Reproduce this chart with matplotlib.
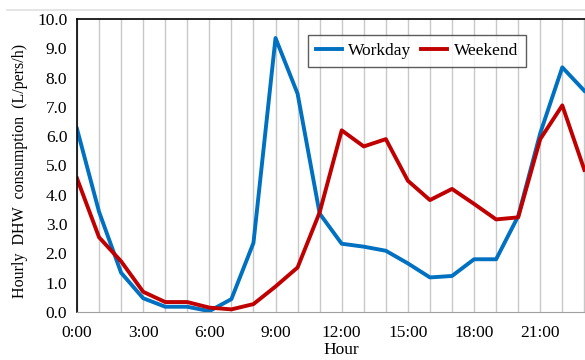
import matplotlib.pyplot as plt
import numpy as np
from matplotlib.lines import Line2D

hours = np.arange(0, 24)
workday = [6.25, 3.42, 1.34, 0.47, 0.18, 0.18, 0.03, 0.44, 2.36, 9.35,
           7.45, 3.36, 2.33, 2.23, 2.09, 1.66, 1.18, 1.23, 1.8, 1.8,
           3.27, 6.1, 8.35, 7.55]
weekend = [4.56, 2.55, 1.73, 0.69, 0.34, 0.34, 0.15, 0.09, 0.27, 0.87,
           1.52, 3.4, 6.2, 5.65, 5.9, 4.48, 3.82, 4.2, 3.69, 3.16,
           3.23, 5.9, 7.05, 4.85]
xtick_pos = [0, 3, 6, 9, 12, 15, 18, 21]
xtick_labels = ["0:00", "3:00", "6:00", "9:00", "12:00", "15:00", "18:00", "21:00"]

plt.rcParams['font.family'] = ['Liberation Serif', 'DejaVu Serif']

fig = plt.figure(figsize=(5.85, 3.6), dpi=100)
ax = fig.add_axes([0.1316, 0.1333, 0.905, 0.814])

ax.plot(hours, workday, color="#0070C0", lw=2.8, label="Workday")
ax.plot(hours, weekend, color="#C00000", lw=2.8, label="Weekend")

ax.set_xlim(0, 24)
ax.set_ylim(0, 10)
ax.set_xticks(np.arange(0, 25, 1), minor=True)
ax.set_xticks(xtick_pos)
ax.set_xticklabels(xtick_labels)
ax.set_yticks(np.arange(0, 10.5, 1))
ax.set_yticklabels(["%.1f" % v for v in np.arange(0, 10.5, 1)])
ax.grid(axis="x", which="both", color="#c8c8c8", lw=1)
ax.set_axisbelow(True)
ax.tick_params(which="both", length=0, labelsize=12.5)
ax.tick_params(axis="x", pad=9)
ax.tick_params(axis="y", pad=7)

ax.spines["left"].set_color("black")
ax.spines["left"].set_linewidth(1.2)
ax.spines["top"].set_color("black")
ax.spines["top"].set_linewidth(1.2)
ax.spines["bottom"].set_color("#a0a0a0")
ax.spines["right"].set_visible(False)

ax.set_xlabel("Hour", fontsize=12.5, labelpad=1)
ax.set_ylabel("Hourly  DHW  consumption  (L/pers/h)", fontsize=11.5)
ax.yaxis.set_label_coords(-0.092, 0.48)

leg = ax.legend(loc="upper left", bbox_to_anchor=(0.436, 0.945), ncol=2, fontsize=12.5,
                frameon=True, fancybox=False, edgecolor="#333333", handlelength=1.5,
                columnspacing=0.6, borderpad=0.45, handletextpad=0.35,
                borderaxespad=0)
leg.get_frame().set_linewidth(1.0)

fig.add_artist(Line2D([0.012, 1.0], [0.972, 0.972], color="#e0e0e0", lw=1.2))

plt.savefig("out.png", dpi=100)
